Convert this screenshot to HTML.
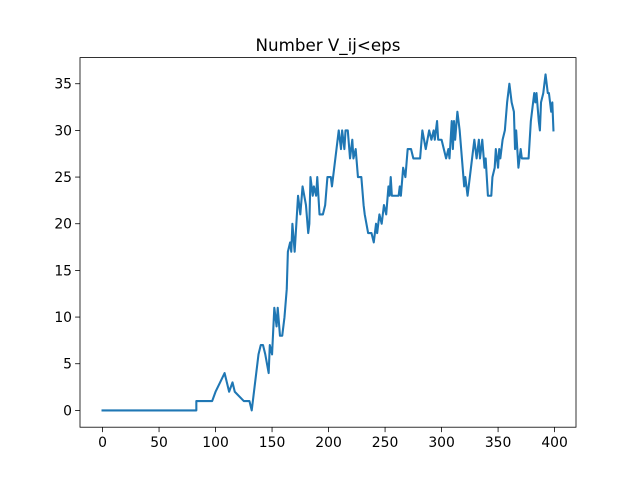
<!DOCTYPE html>
<html><head><meta charset="utf-8"><style>
body{margin:0;background:#fff;}
svg{display:block;font-family:"DejaVu Sans","Liberation Sans",sans-serif;}
</style></head><body>
<svg id="chart" width="640" height="480">
<rect x="0" y="0" width="640" height="480" fill="#fff"/>
<text x="328" y="51" text-anchor="middle" font-size="16.7">Number V_ij&lt;eps</text>
<g id="plot"></g>
<rect x="80" y="57.6" width="496" height="369.6" fill="none" stroke="#000" stroke-width="0.8"/>
</svg>
<script>
const xs=[0,83,83,97,100,104,108,110,112,115,117,125,130,132,133,135,138,140,142,144,147,148,150,152,154,155,157,159,161,163,164,166,167,168,170,171,173,175,177,180,182,183,184,186,187,189,190,192,195,197,199,202,203,205,207,209,211,212,214,215,217,219,221,222,224,226,229,231,232,235,238,240,242,243,245,247,249,251,253,254,255,256,262,263,264,266,268,270,273,275,281,283,286,289,291,293,294,296,297,300,302,304,306,307,309,310,311,312,314,316,318,320,321,323,325,327,329,331,333,334,336,338,339,341,344,345,347,348,350,351,352,354,356,358,360,362,364,365,366,368,370,371,377,379,381,382,383,384,386,387,388,390,392,394,395,397,398,399];
const ys=[0,0,1,1,2,3,4,3,2,3,2,1,1,0,1,3,6,7,7,6,4,7,6,11,9,11,8,8,10,13,17,18,17,20,17,19,23,21,24,22,19,20,25,23,24,23,25,21,21,22,25,25,24,26,28,30,28,30,28,30,30,27,29,27,28,25,25,22,21,19,19,18,20,19,21,20,22,21,24,23,25,23,23,24,23,26,25,28,28,27,27,30,28,30,29,30,29,31,29,29,28,27,28,27,31,28,31,29,32,30,27,24,25,23,25,27,29,27,29,27,29,26,27,23,23,25,26,28,26,28,27,29,30,33,35,33,32,28,30,26,28,27,27,31,33,34,33,34,31,30,33,34,36,34,34,32,33,30];
const xTicks=[0,50,100,150,200,250,300,350,400];
const yTicks=[0,5,10,15,20,25,30,35];
const L=80,R=576,T=57.6,B=427.2;
const xMin=-19.95,xMax=418.95,yMin=-1.8,yMax=37.8;
const sx=v=>L+(v-xMin)/(xMax-xMin)*(R-L);
const sy=v=>B-(v-yMin)/(yMax-yMin)*(B-T);
const NS="http://www.w3.org/2000/svg";
const g=document.getElementById('plot');
function mk(t,a){const e=document.createElementNS(NS,t);for(const k in a)e.setAttribute(k,a[k]);g.appendChild(e);return e;}
xTicks.forEach(v=>{
 const l=mk('line',{x1:sx(v),x2:sx(v),y1:B,y2:B+4.9,stroke:'#000','stroke-width':0.8});
 
 
 const t=mk('text',{x:sx(v),y:B+20,'text-anchor':'middle','font-size':13.9});
 t.textContent=v;
 
 
});
yTicks.forEach(v=>{
 const l=mk('line',{x1:L-4.9,x2:L,y1:sy(v),y2:sy(v),stroke:'#000','stroke-width':0.8});
 
 
 const t=mk('text',{x:L-8,y:sy(v)+5,'text-anchor':'end','font-size':13.9});
 t.textContent=v;
 
 
});
const pts=xs.map((x,i)=>sx(x).toFixed(2)+','+sy(ys[i]).toFixed(2)).join(' ');
const line=mk('polyline',{points:pts,fill:'none',stroke:'#1f77b4','stroke-width':2.08,'stroke-linejoin':'round','stroke-linecap':'square'});


</script>
</body></html>
